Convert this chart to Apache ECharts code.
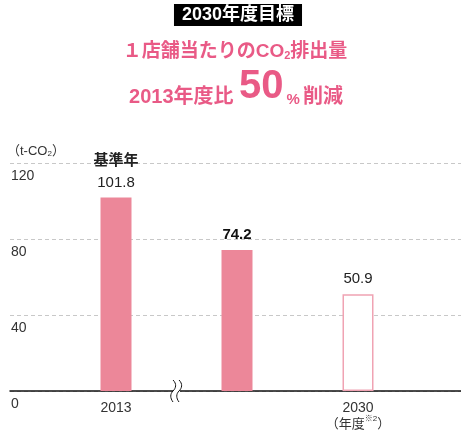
<!DOCTYPE html>
<html><head><meta charset="utf-8">
<script src="https://cdn.jsdelivr.net/npm/echarts@6/dist/echarts.min.js"></script>
<style>html,body{margin:0;padding:0;background:#fff}#c{width:461px;height:435px}</style>
</head><body><div id="c"></div>
<script>
const categories = ['2013', '2020', '2030'];
const values = [101.8, 74.2, 50.9];
const topNotes = ['基準年', '', ''];
const FONT = '"Liberation Sans","Noto Sans CJK JP",sans-serif';
const PINK = '#ec8799';
const TITLE_PINK = '#e95a86';

const chart = echarts.init(document.getElementById('c'));
const barData = values.map((v, i) => {
  if (i === 2) return {value: v, itemStyle: {color: '#fff', borderColor: '#f0a3b3', borderWidth: 1.5}};
  return {value: v, itemStyle: {color: PINK}};
});
function wave(x) {
  return [
    {type: 'bezierCurve', z: 101, shape: {x1: x, y1: 380, cpx1: x + 4, cpy1: 384, cpx2: x + 3, cpy2: 388, x2: x, y2: 391}, style: {fill: 'none', stroke: '#111', lineWidth: 1}},
    {type: 'bezierCurve', z: 101, shape: {x1: x, y1: 391, cpx1: x - 3, cpy1: 394, cpx2: x - 3, cpy2: 398, x2: x, y2: 402}, style: {fill: 'none', stroke: '#111', lineWidth: 1}}
  ];
}
chart.setOption({
  animation: false,
  textStyle: {fontFamily: FONT},
  title: [
    {text: '2030年度目標', left: 230, textAlign: 'center', top: 4,
     backgroundColor: '#000', padding: [2, 8, 2, 8],
     textStyle: {color: '#fff', fontSize: 18, fontWeight: 'bold', fontFamily: FONT}},
    {text: '１店舗当たりのCO{s|2}排出量', left: 230, textAlign: 'center', top: 37,
     textStyle: {color: TITLE_PINK, fontSize: 19, fontWeight: 'bold', fontFamily: FONT,
       rich: {s: {fontSize: 11, fontWeight: 'bold', color: TITLE_PINK, verticalAlign: 'bottom', padding: [8, 0, 0, 0]}}}},
    {text: '{a|2013年度比 }{b|50}{c|%}{a|削減}', left: 231, textAlign: 'center', top: 62,
     textStyle: {rich: {
       a: {color: TITLE_PINK, fontSize: 20, fontWeight: 'bold', fontFamily: FONT, verticalAlign: 'bottom', padding: [8, 0, 0, 0]},
       b: {color: TITLE_PINK, fontSize: 40, fontWeight: 'bold', fontFamily: FONT},
       c: {color: TITLE_PINK, fontSize: 15, fontWeight: 'bold', fontFamily: FONT, verticalAlign: 'bottom', padding: [10, 3, 0, 3]}
     }}},
    {text: '（t-CO{s|2}）', left: 2, top: 139,
     textStyle: {color: '#333', fontSize: 13, fontWeight: 'normal', fontFamily: FONT,
       rich: {s: {fontSize: 8, color: '#333', padding: [6, 0, 0, 0]}}}}
  ],
  grid: [
    {left: 10, right: 0, top: 163, bottom: 44},
    {left: 55.5, width: 363, top: 163, bottom: 44}
  ],
  xAxis: [
    {gridIndex: 0, type: 'category', data: [''], axisLine: {lineStyle: {color: '#111', width: 1.5}},
     axisTick: {show: false}, axisLabel: {show: false}},
    {gridIndex: 1, type: 'category', data: categories,
     axisLine: {show: false}, axisTick: {show: false},
     axisLabel: {color: '#333', fontSize: 14, margin: 10, fontFamily: FONT,
       formatter: (v, i) => i === 2 ? v + '\n{n|（年度}{m|※2}{n|）}' : v,
       rich: {n: {fontSize: 13, color: '#333', lineHeight: 18}, m: {fontSize: 8, color: '#333', verticalAlign: 'top', lineHeight: 18, padding: [0, 0, 6, 0]}}}}
  ],
  yAxis: [
    {gridIndex: 0, type: 'value', min: 0, max: 120, interval: 40,
     axisLine: {show: false}, axisTick: {show: false},
     splitLine: {lineStyle: {color: '#c8c8c8', type: [4, 3], width: 1}},
     axisLabel: {inside: true, margin: 0, verticalAlign: 'top', padding: [6, 0, 0, 1], color: '#333', fontSize: 14, fontFamily: FONT}},
    {gridIndex: 1, type: 'value', min: 0, max: 120, interval: 40, show: false}
  ],
  series: [{
    type: 'bar', xAxisIndex: 1, yAxisIndex: 1, data: barData, barWidth: 31,
    label: {show: true, position: 'top', distance: 5, color: '#222', fontSize: 15, fontFamily: FONT,
      formatter: p => {
        const v = values[p.dataIndex].toFixed(1);
        if (topNotes[p.dataIndex]) return '{n|' + topNotes[p.dataIndex] + '}\n{v|' + v + '}';
        if (p.dataIndex === 1) return '{b|' + v + '}';
        return '{v|' + v + '}';
      },
      rich: {
        n: {fontSize: 15, fontWeight: 'bold', color: '#222', lineHeight: 24},
        v: {fontSize: 15, color: '#222', lineHeight: 20},
        b: {fontSize: 15, fontWeight: 'bold', color: '#111', lineHeight: 20}
      }}
  }],
  graphic: [
    {type: 'rect', z: 100, shape: {x: 173, y: 388, width: 7, height: 6}, style: {fill: '#fff'}}
  ].concat(wave(173), wave(179))
});
</script></body></html>
